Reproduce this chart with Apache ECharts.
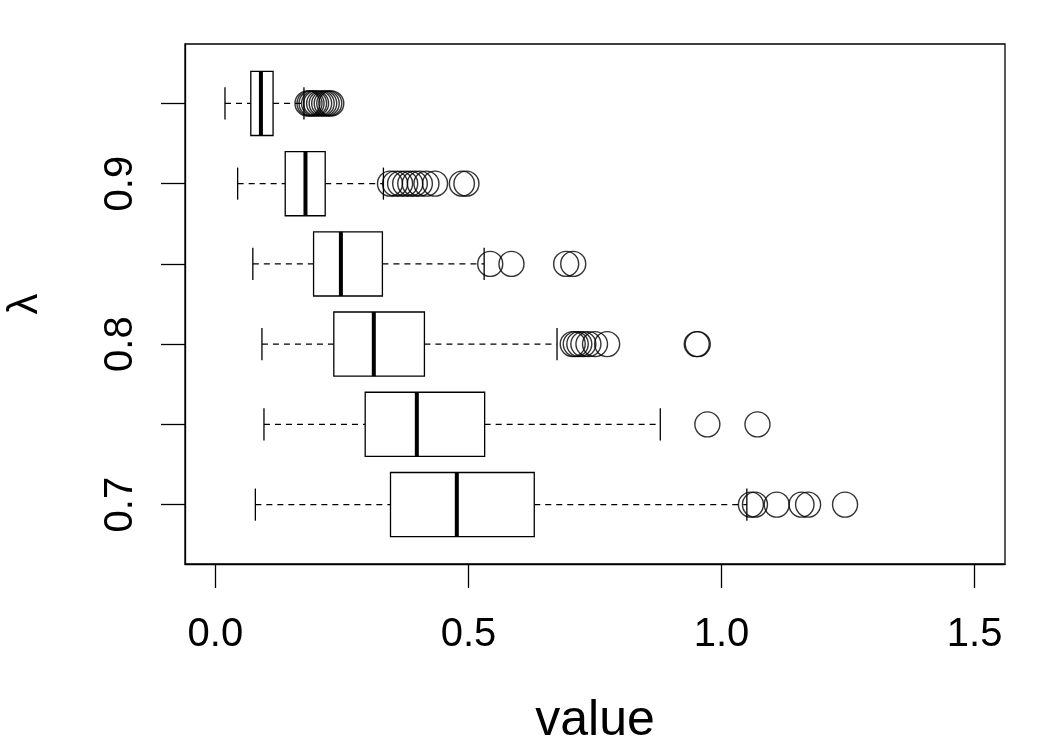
<!DOCTYPE html>
<html>
<head>
<meta charset="utf-8">
<title>boxplot</title>
<script src="https://cdn.jsdelivr.net/npm/echarts@6/dist/echarts.min.js"></script>
<style>
  html, body { margin: 0; padding: 0; background: #fff; }
  #chart { width: 1050px; height: 750px; }
</style>
</head>
<body>
<div id="chart"></div>
<script>
  // lambda groups, bottom to top
  const lambdaLabels = ['0.7', '0.75', '0.8', '0.85', '0.9', '0.95']
  // five-number summaries
  const lowWhisker = [0.079, 0.096, 0.092, 0.074, 0.044, 0.019]
  const q1 = [0.346, 0.296, 0.234, 0.194, 0.138, 0.070]
  const median = [0.477, 0.398, 0.313, 0.248, 0.178, 0.090]
  const q3 = [0.630, 0.532, 0.413, 0.330, 0.217, 0.114]
  const highWhisker = [1.050, 0.879, 0.675, 0.531, 0.332, 0.175]
  // outliers per group
  const outliers = [
    [1.058, 1.066, 1.109, 1.158, 1.171, 1.244],
    [0.972, 1.071],
    [0.706, 0.712, 0.719, 0.727, 0.737, 0.750, 0.774, 0.951, 0.953],
    [0.543, 0.585, 0.693, 0.707],
    [0.345, 0.355, 0.365, 0.375, 0.385, 0.394, 0.404, 0.417, 0.434, 0.487, 0.496],
    [0.182, 0.186, 0.190, 0.195, 0.199, 0.205, 0.210, 0.215, 0.220, 0.225, 0.229]
  ]
  const xTicks = [0, 0.5, 1.0, 1.5]
  const xTickLabels = ['0.0', '0.5', '1.0', '1.5']
  const yLabelPos = [1, 3, 5]

  const FONT = '"Liberation Sans", Arial, sans-serif'

  // group i sits at position i+1 on the y axis
  const boxData = lambdaLabels.map((l, i) => [i + 1, lowWhisker[i], q1[i], median[i], q3[i], highWhisker[i]])
  const outlierData = []
  outliers.forEach((arr, i) => {
    arr.forEach(v => outlierData.push([v, i + 1]))
  })

  function renderBox(params, api) {
    const pos = api.value(0)
    const pLow = api.coord([api.value(1), pos])
    const pQ1 = api.coord([api.value(2), pos])
    const pMed = api.coord([api.value(3), pos])
    const pQ3 = api.coord([api.value(4), pos])
    const pHigh = api.coord([api.value(5), pos])
    // box half height = 0.4 of group spacing, staple = half of that
    const half = api.size([0, 0.4])[1]
    const cap = half / 2
    const y = pMed[1]
    const dash = { stroke: '#000', lineWidth: 1.2, lineDash: [6, 5] }
    const solid = { stroke: '#000', lineWidth: 1.3 }
    return {
      type: 'group',
      children: [
        { type: 'line', shape: { x1: pLow[0], y1: y, x2: pQ1[0], y2: y }, style: dash },
        { type: 'line', shape: { x1: pQ3[0], y1: y, x2: pHigh[0], y2: y }, style: dash },
        { type: 'line', shape: { x1: pLow[0], y1: y - cap, x2: pLow[0], y2: y + cap }, style: solid },
        { type: 'line', shape: { x1: pHigh[0], y1: y - cap, x2: pHigh[0], y2: y + cap }, style: solid },
        {
          type: 'rect',
          shape: { x: pQ1[0], y: y - half, width: pQ3[0] - pQ1[0], height: half * 2 },
          style: { fill: '#fff', stroke: '#000', lineWidth: 1.3 }
        },
        { type: 'line', shape: { x1: pMed[0], y1: y - half, x2: pMed[0], y2: y + half }, style: { stroke: '#000', lineWidth: 4 } }
      ]
    }
  }

  const chart = echarts.init(document.getElementById('chart'), null, { renderer: 'canvas' })
  const option = {
    backgroundColor: '#fff',
    animation: false,
    grid: {
      left: 185,
      right: 45,
      top: 44,
      bottom: 186,
      containLabel: false,
      outerBoundsMode: 'none',
      show: true,
      borderColor: '#000',
      borderWidth: 1.3,
      backgroundColor: 'transparent'
    },
    xAxis: {
      type: 'value',
      min: -0.06,
      max: 1.56,
      name: 'value',
      nameLocation: 'middle',
      nameGap: 132,
      nameTextStyle: { fontFamily: FONT, fontSize: 50, color: '#000' },
      axisLine: { show: true, onZero: false, lineStyle: { color: '#000', width: 1.3 } },
      axisTick: { show: true, inside: false, length: 24, customValues: xTicks, lineStyle: { color: '#000', width: 1.3 } },
      axisLabel: {
        customValues: xTicks,
        margin: 51,
        fontFamily: FONT,
        fontSize: 40,
        color: '#000',
        formatter: v => {
          const i = xTicks.findIndex(t => Math.abs(t - v) < 1e-9)
          return i >= 0 ? xTickLabels[i] : ''
        }
      },
      splitLine: { show: false }
    },
    yAxis: {
      type: 'value',
      min: 0.26,
      max: 6.74,
      name: 'λ',
      nameLocation: 'middle',
      nameRotate: 90,
      nameGap: 139,
      nameTextStyle: { fontFamily: FONT, fontSize: 42, color: '#000' },
      axisLine: { show: true, onZero: false, lineStyle: { color: '#000', width: 1.3 } },
      axisTick: { show: true, inside: false, length: 24, customValues: [1, 2, 3, 4, 5, 6], lineStyle: { color: '#000', width: 1.3 } },
      axisLabel: {
        customValues: yLabelPos,
        rotate: 90,
        margin: 44,
        fontFamily: FONT,
        fontSize: 40,
        color: '#000',
        formatter: v => lambdaLabels[Math.round(v) - 1]
      },
      splitLine: { show: false }
    },
    series: [
      {
        type: 'custom',
        renderItem: renderBox,
        data: boxData,
        encode: { x: [1, 2, 3, 4, 5], y: 0 },
        z: 2
      },
      {
        type: 'scatter',
        data: outlierData,
        symbol: 'circle',
        symbolSize: 25,
        itemStyle: { color: 'rgba(0,0,0,0)', borderColor: '#000', borderWidth: 1.4 },
        z: 3
      }
    ]
  }
  chart.setOption(option)
</script>
</body>
</html>
